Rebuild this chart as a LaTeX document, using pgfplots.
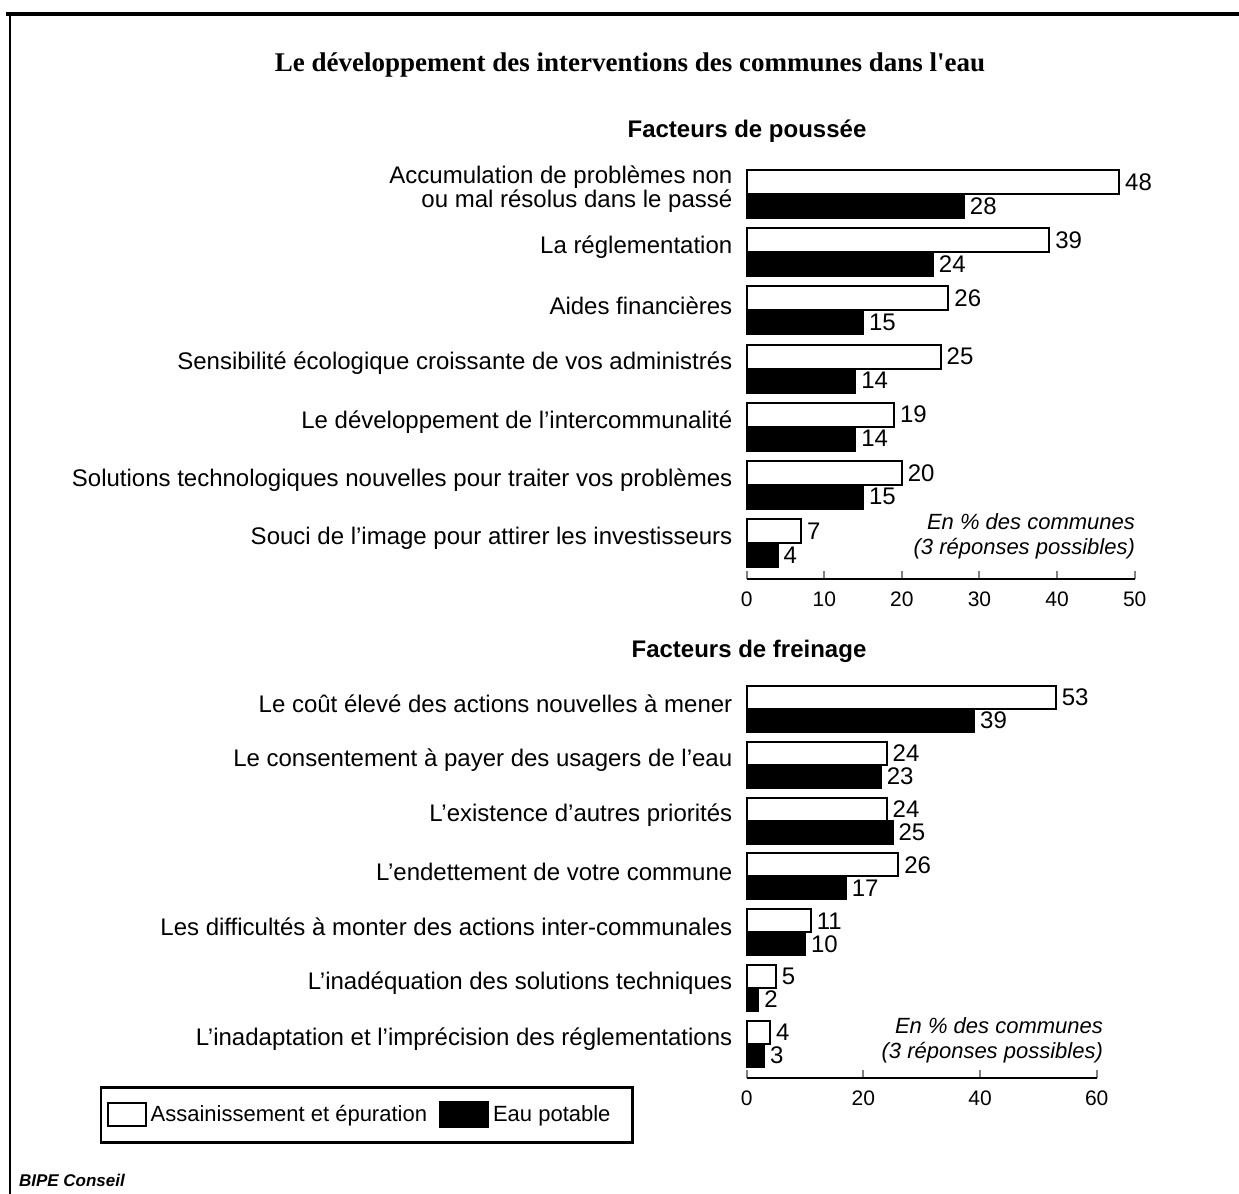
\documentclass[border=0pt]{standalone}
\usepackage{fontspec}
\setmainfont{Liberation Sans}
\newfontfamily\titlefont{Liberation Serif}
\usepackage{pgfplots}
\pgfplotsset{compat=1.18}
\pgfplotsset{
  barchart/.style={
    scale only axis, clip=false,
    axis x line*=bottom, axis y line*=left,
    y axis line style={draw=none},
    x axis line style={line width=1.1pt},
    ytick style={draw=none},
    xtick style={line width=1pt},
    tick align=inside,
    major tick length=4pt,
    xtick pos=bottom,
    /pgf/number format/assume math mode=true,
    xticklabel style={font=\fontsize{10.5}{12}\selectfont, yshift=-3pt},
    yticklabel style={font=\fontsize{12}{12}\selectfont, align=right, inner sep=0pt, xshift=-3pt, yshift=2.5pt},
    ytick={0,...,6},
    xbar,
    nodes near coords,
    every node near coord/.append style={font=\fontsize{12}{13}\selectfont, inner sep=2.5pt},
  },
  whitebar/.style={draw=black, fill=white, line width=1pt},
  blackbar/.style={draw=black, fill=black, line width=1pt},
  legwhite/.style={legend image code/.code={\draw[##1, line width=1pt] (0pt,-5.75pt) rectangle (19pt,5.75pt);}},
  legblack/.style={legend image code/.code={\draw[##1, line width=1pt] (0pt,-6.25pt) rectangle (24pt,6.25pt);}},
}
\begin{document}
\begin{tikzpicture}
\path[use as bounding box] (0pt,0pt) rectangle (619.5pt,-597pt);
\draw[line width=1.6pt] (3pt,-7pt) -- (619.5pt,-7pt);
\draw[line width=0.9pt] (5pt,-7pt) -- (5pt,-597pt);

\node[font=\titlefont\bfseries\fontsize{13.5}{16}\selectfont] at (315pt,-32.5pt) {Le développement des interventions des communes dans l'eau};
\node[font=\bfseries\fontsize{12}{14}\selectfont] at (373.5pt,-65.5pt) {Facteurs de poussée};
\node[font=\bfseries\fontsize{12}{14}\selectfont] at (374.5pt,-325.5pt) {Facteurs de freinage};

\node[anchor=east, align=right, font=\itshape\fontsize{11}{12.5}\selectfont] at (571pt,-268.25pt) {En \% des communes\\(3 réponses possibles)};
\node[anchor=east, align=right, font=\itshape\fontsize{11}{12.5}\selectfont] at (555pt,-520pt) {En \% des communes\\(3 réponses possibles)};

\node[anchor=west, font=\bfseries\itshape\fontsize{8.5}{10}\selectfont] at (6pt,-590pt) {BIPE Conseil};

% Top chart
\begin{axis}[barchart,
  at={(373.35pt,-289.5pt)}, anchor=south west,
  width=194pt, height=207pt,
  xmin=0, xmax=50, ymin=-0.62, ymax=6.5,
  xtick={0,10,...,50},
  yticklabels={
    {Souci de l’image pour attirer les investisseurs},
    {Solutions technologiques nouvelles pour traiter vos problèmes},
    {Le développement de l’intercommunalité},
    {Sensibilité écologique croissante de vos administrés},
    {Aides financières},
    {La réglementation},
    {Accumulation de problèmes non\\ou mal résolus dans le passé}},
]
\addplot[whitebar, bar width=12pt, bar shift=6pt] coordinates {(48,6) (39,5) (26,4) (25,3) (19,2) (20,1) (7,0)};
\addplot[blackbar, bar width=12pt, bar shift=-6pt] coordinates {(28,6) (24,5) (15,4) (14,3) (14,2) (15,1) (4,0)};
\end{axis}

% Bottom chart
\begin{axis}[barchart,
  at={(373.35pt,-539pt)}, anchor=south west,
  width=175pt, height=198.5pt,
  xmin=0, xmax=60, ymin=-0.61, ymax=6.5,
  xtick={0,20,40,60},
  yticklabels={
    {L’inadaptation et l’imprécision des réglementations},
    {L’inadéquation des solutions techniques},
    {Les difficultés à monter des actions inter-communales},
    {L’endettement de votre commune},
    {L’existence d’autres priorités},
    {Le consentement à payer des usagers de l’eau},
    {Le coût élevé des actions nouvelles à mener}},
  legend columns=2,
  legend style={at={(-1.086,-0.093)}, anchor=center, draw=black, line width=1.2pt,
    font=\fontsize{11}{12}\selectfont, inner xsep=3pt, inner ysep=7pt,
    /tikz/every even column/.append style={column sep=4pt},
    /tikz/every odd column/.append style={column sep=0pt}},
]
\addplot[whitebar, legwhite, bar width=11.5pt, bar shift=5.75pt]
  coordinates {(53,6) (24,5) (24,4) (26,3) (11,2) (5,1) (4,0)};
\addlegendentry{Assainissement et épuration}
\addplot[blackbar, legblack, bar width=11.5pt, bar shift=-5.75pt]
  coordinates {(39,6) (23,5) (25,4) (17,3) (10,2) (2,1) (3,0)};
\addlegendentry{Eau potable\rule{6pt}{0pt}}
\end{axis}
\end{tikzpicture}
\end{document}
